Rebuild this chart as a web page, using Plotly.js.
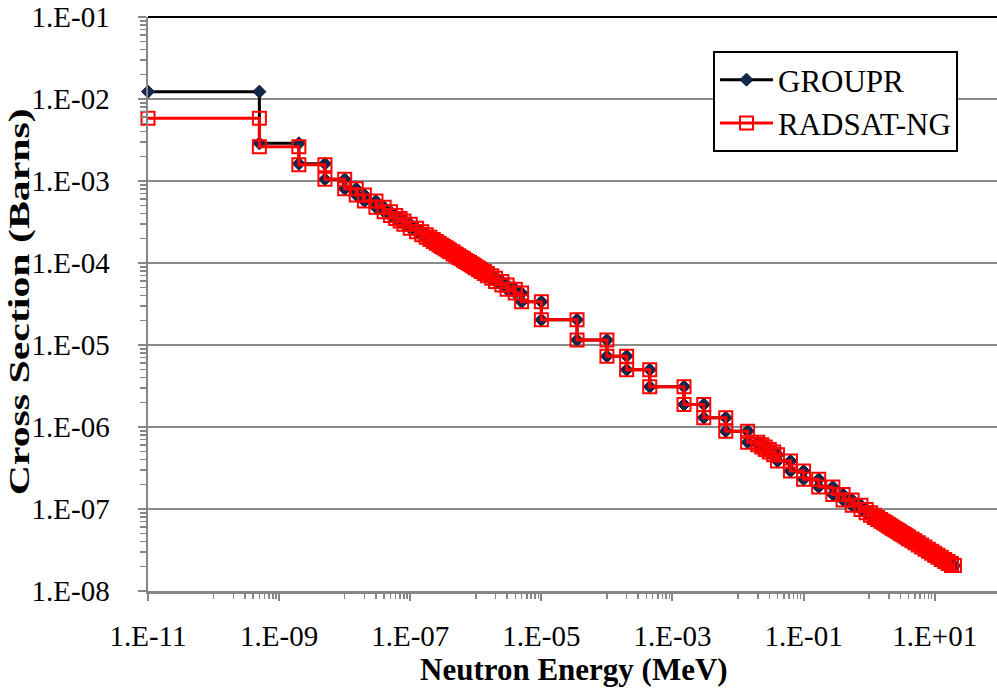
<!DOCTYPE html>
<html>
<head>
<meta charset="utf-8">
<script src="https://cdn.plot.ly/plotly-3.0.1.min.js"></script>
<style>
  html, body { margin: 0; padding: 0; background: #ffffff; }
  #chart { width: 997px; height: 689px; }
</style>
</head>
<body>
<div id="chart"></div>
<script>
// Energy group boundaries (MeV), lowest to highest
const groupBounds = [
  1e-11, 5e-10, 2e-9, 5e-9, 1e-8, 1.5e-8, 2e-8, 3e-8, 4e-8, 5e-8,
  6e-8, 7e-8, 8e-8, 1e-7, 1.25e-7, 1.5e-7, 1.75e-7, 2e-7, 2.25e-7, 2.5e-7,
  2.75e-7, 3e-7, 3.25e-7, 3.5e-7, 3.75e-7, 4e-7, 4.5e-7, 5e-7, 5.5e-7, 6e-7,
  6.5e-7, 7e-7, 7.5e-7, 8e-7, 8.5e-7, 9e-7, 9.5e-7, 1e-6, 1.1e-6, 1.2e-6,
  1.35e-6, 1.5e-6, 1.75e-6, 2e-6, 2.5e-6, 3e-6, 4e-6, 5e-6, 1e-5, 3.5e-5,
  1e-4, 2e-4, 4.5e-4, 1.5e-3, 3e-3, 6.5e-3, 1.4e-2, 2e-2, 2.3e-2, 2.6e-2,
  3e-2, 3.5e-2, 4e-2, 6.3e-2, 0.1, 0.17, 0.28, 0.4, 0.55, 0.75,
  0.9, 1.05, 1.2, 1.35, 1.5, 1.65, 1.8, 1.95, 2.1, 2.25,
  2.4, 2.55, 2.7, 2.85, 3.0, 3.25, 3.5, 3.75, 4.0, 4.5,
  5.0, 5.6, 6.3, 7.1, 8.0, 9.0, 10, 11.2, 12.6, 14.2,
  16, 18, 20
];

// Group-averaged cross sections (barns), one value per group
const grouprXS = [
  1.23e-2, 2.88e-3, 1.62e-3, 1.05e-3, 8.04e-4, 6.76e-4, 5.69e-4, 4.78e-4, 4.21e-4, 3.80e-4,
  3.49e-4, 3.25e-4, 2.975e-4, 2.66e-4, 2.41e-4, 2.21e-4, 2.06e-4, 1.93e-4, 1.83e-4, 1.74e-4,
  1.66e-4, 1.59e-4, 1.53e-4, 1.48e-4, 1.43e-4, 1.37e-4, 1.29e-4, 1.23e-4, 1.17e-4, 1.126e-4,
  1.084e-4, 1.046e-4, 1.011e-4, 9.80e-5, 9.51e-5, 9.25e-5, 9.01e-5, 8.69e-5, 8.30e-5, 7.89e-5,
  7.46e-5, 7.00e-5, 6.51e-5, 5.95e-5, 5.38e-5, 4.78e-5, 4.30e-5, 3.37e-5, 2.03e-5, 1.15e-5,
  7.3e-6, 5.0e-6, 3.1e-6, 1.88e-6, 1.30e-6, 8.9e-7, 6.5e-7, 6.08e-7, 5.70e-7, 5.33e-7,
  4.95e-7, 4.60e-7, 3.85e-7, 2.9e-7, 2.3e-7, 1.86e-7, 1.50e-7, 1.29e-7, 1.11e-7, 9.83e-8,
  9.03e-8, 8.40e-8, 7.89e-8, 7.46e-8, 7.10e-8, 6.78e-8, 6.50e-8, 6.25e-8, 6.03e-8, 5.84e-8,
  5.66e-8, 5.49e-8, 5.34e-8, 5.20e-8, 5.04e-8, 4.85e-8, 4.68e-8, 4.52e-8, 4.32e-8, 4.09e-8,
  3.87e-8, 3.65e-8, 3.44e-8, 3.24e-8, 3.06e-8, 2.89e-8, 2.73e-8, 2.58e-8, 2.43e-8, 2.29e-8,
  2.16e-8, 2.04e-8
];

const radsatXS = [
  5.82e-3, 2.62e-3, 1.58e-3, 1.05e-3, 8.04e-4, 6.76e-4, 5.69e-4, 4.78e-4, 4.21e-4, 3.80e-4,
  3.49e-4, 3.25e-4, 2.975e-4, 2.66e-4, 2.41e-4, 2.21e-4, 2.06e-4, 1.93e-4, 1.83e-4, 1.74e-4,
  1.66e-4, 1.59e-4, 1.53e-4, 1.48e-4, 1.43e-4, 1.37e-4, 1.29e-4, 1.23e-4, 1.17e-4, 1.126e-4,
  1.084e-4, 1.046e-4, 1.011e-4, 9.80e-5, 9.51e-5, 9.25e-5, 9.01e-5, 8.69e-5, 8.30e-5, 7.89e-5,
  7.46e-5, 7.00e-5, 6.51e-5, 5.95e-5, 5.38e-5, 4.78e-5, 4.30e-5, 3.37e-5, 2.03e-5, 1.15e-5,
  7.3e-6, 5.0e-6, 3.1e-6, 1.88e-6, 1.30e-6, 8.9e-7, 6.5e-7, 6.08e-7, 5.70e-7, 5.33e-7,
  4.95e-7, 4.60e-7, 3.85e-7, 2.9e-7, 2.3e-7, 1.86e-7, 1.50e-7, 1.29e-7, 1.11e-7, 9.83e-8,
  9.03e-8, 8.40e-8, 7.89e-8, 7.46e-8, 7.10e-8, 6.78e-8, 6.50e-8, 6.25e-8, 6.03e-8, 5.84e-8,
  5.66e-8, 5.49e-8, 5.34e-8, 5.20e-8, 5.04e-8, 4.85e-8, 4.68e-8, 4.52e-8, 4.32e-8, 4.09e-8,
  3.87e-8, 3.65e-8, 3.44e-8, 3.24e-8, 3.06e-8, 2.89e-8, 2.73e-8, 2.58e-8, 2.43e-8, 2.29e-8,
  2.16e-8, 2.04e-8
];

const seriesNames = ['GROUPR', 'RADSAT-NG'];

const xTickVals = [1e-11, 1e-9, 1e-7, 1e-5, 1e-3, 1e-1, 1e1];
const xTickText = ['1.E-11', '1.E-09', '1.E-07', '1.E-05', '1.E-03', '1.E-01', '1.E+01'];
const yTickVals = [1e-8, 1e-7, 1e-6, 1e-5, 1e-4, 1e-3, 1e-2, 1e-1];
const yTickText = ['1.E-08', '1.E-07', '1.E-06', '1.E-05', '1.E-04', '1.E-03', '1.E-02', '1.E-01'];

const xTitle = 'Neutron Energy (MeV)';
const yTitle = 'Cross Section (Barns)';

// Each group becomes a flat segment from its lower to its upper boundary
function stepPoints(bounds, values) {
  const x = [], y = [];
  for (let i = 0; i < values.length; i++) {
    x.push(bounds[i], bounds[i + 1]);
    y.push(values[i], values[i]);
  }
  return { x, y };
}

// Minor tick positions: x axis subdivides each two-decade span, y axis each decade
const xMinor = [];
for (let k = 0; k < xTickVals.length; k++) {
  for (let m = 1; m <= 9; m++) xMinor.push(m * xTickVals[k] * 10);
}
const yMinor = [];
for (let k = 0; k < yTickVals.length - 1; k++) {
  for (let m = 2; m <= 9; m++) yMinor.push(m * yTickVals[k]);
}

const serif = '"Liberation Serif", "Times New Roman", serif';
const g = stepPoints(groupBounds, grouprXS);
const r = stepPoints(groupBounds, radsatXS);

const traces = [
  {
    x: g.x, y: g.y, name: seriesNames[0], type: 'scatter', mode: 'lines+markers',
    line: { color: '#000000', width: 3 },
    marker: { symbol: 'diamond', size: 10, color: '#14284f', line: { color: '#0a1530', width: 1 } },
    cliponaxis: false
  },
  {
    x: r.x, y: r.y, name: seriesNames[1], type: 'scatter', mode: 'lines+markers',
    line: { color: '#ff0000', width: 3 },
    marker: { symbol: 'square-open', size: 13, color: '#ff0000', line: { color: '#ff0000', width: 2 } },
    cliponaxis: false
  }
];

const layout = {
  width: 997, height: 689,
  margin: { l: 148, r: 0, t: 17, b: 98 },
  paper_bgcolor: '#ffffff', plot_bgcolor: '#ffffff',
  font: { family: serif, size: 29, color: '#000000' },
  showlegend: true,
  legend: {
    x: 0.6655, y: 0.9408, xanchor: 'left', yanchor: 'top',
    bgcolor: '#ffffff', bordercolor: '#000000', borderwidth: 2,
    font: { family: serif, size: 31, color: '#000000' },
    itemwidth: 53, tracegroupgap: 0
  },
  xaxis: {
    type: 'log', range: [-11, 1.95],
    tickmode: 'array', tickvals: xTickVals, ticktext: xTickText,
    ticks: 'outside', ticklen: 7, tickwidth: 2, tickcolor: '#868686',
    ticklabelstandoff: 11,
    minor: { tickmode: 'array', tickvals: xMinor, ticks: 'outside', ticklen: 5, tickwidth: 1.5, tickcolor: '#868686', showgrid: false },
    showgrid: false, zeroline: false,
    showline: true, linecolor: '#868686', linewidth: 2.5,
    tickfont: { family: serif, size: 29, color: '#000000' }
  },
  yaxis: {
    type: 'log', range: [-8, -1],
    tickmode: 'array', tickvals: yTickVals, ticktext: yTickText,
    ticks: 'outside', ticklen: 8, tickwidth: 2, tickcolor: '#868686',
    ticklabelstandoff: 22,
    minor: { tickmode: 'array', tickvals: yMinor, ticks: 'outside', ticklen: 6, tickwidth: 1.5, tickcolor: '#868686', showgrid: false },
    showgrid: true, gridcolor: '#8c8c8c', gridwidth: 2,
    zeroline: false,
    showline: true, linecolor: '#868686', linewidth: 2.5,
    tickfont: { family: serif, size: 29, color: '#000000' }
  },
  annotations: [
    {
      text: '<b>' + xTitle + '</b>', xref: 'paper', yref: 'paper',
      x: 0.502, y: -0.136, xanchor: 'center', yanchor: 'middle', showarrow: false,
      font: { family: serif, size: 31, color: '#000000' }
    },
    {
      text: '<b>' + yTitle + '</b>', xref: 'paper', yref: 'paper', textangle: -90,
      x: -0.152, y: 0.505, xanchor: 'center', yanchor: 'middle', showarrow: false,
      font: { family: serif, size: 29, color: '#000000' }
    }
  ],
  shapes: [
    { type: 'line', xref: 'paper', yref: 'paper', x0: 0, x1: 1, y0: 1, y1: 1, line: { color: '#000000', width: 2 } }
  ]
};

Plotly.newPlot('chart', traces, layout, { staticPlot: true, displayModeBar: false }).then(function (gd) {
  // The vertical axis title is set in a tall, stretched face: spread it along its length
  const texts = gd.querySelectorAll('.annotation-text');
  texts.forEach(function (t) {
    if (t.textContent === yTitle) {
      t.setAttribute('textLength', '387');
      t.setAttribute('lengthAdjust', 'spacingAndGlyphs');
    }
  });
});
</script>
</body>
</html>
